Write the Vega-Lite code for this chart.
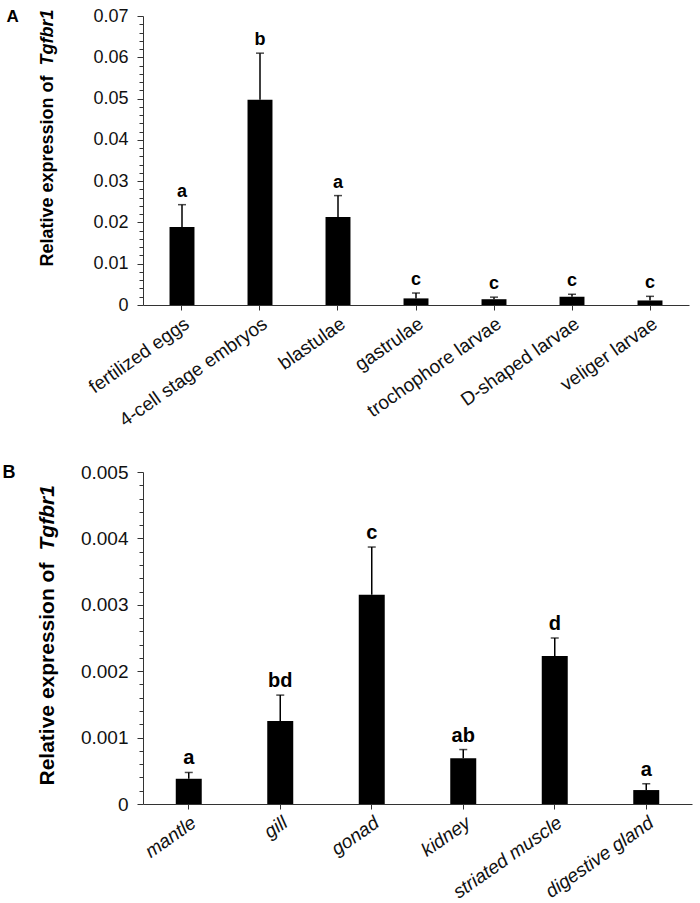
{
  "$schema": "https://vega.github.io/schema/vega-lite/v6.json",
  "padding": {"left": 2, "top": 7, "right": 2, "bottom": 0},
  "spacing": 32,
  "config": {
    "view": {"stroke": null},
    "font": "Liberation Sans",
    "axis": {"grid": false, "domainColor": "#333", "tickColor": "#333", "labelColor": "#111", "titleColor": "#000", "labelFont": "Liberation Sans", "titleFont": "Liberation Sans"}
  },
  "vconcat": [
    {
      "width": 546,
      "height": 289,
      "data": {"values": [
        {"stage": "fertilized eggs", "value": 0.0189, "upper": 0.0243, "letter": "a"},
        {"stage": "4-cell stage embryos", "value": 0.0497, "upper": 0.061, "letter": "b"},
        {"stage": "blastulae", "value": 0.0213, "upper": 0.0265, "letter": "a"},
        {"stage": "gastrulae", "value": 0.0016, "upper": 0.0029, "letter": "c"},
        {"stage": "trochophore larvae", "value": 0.0014, "upper": 0.0019, "letter": "c"},
        {"stage": "D-shaped larvae", "value": 0.002, "upper": 0.0026, "letter": "c"},
        {"stage": "veliger larvae", "value": 0.0011, "upper": 0.0021, "letter": "c"}
      ]},
      "encoding": {
        "x": {"field": "stage", "type": "nominal", "sort": null, "title": null,
          "scale": {"paddingInner": 0.68, "paddingOuter": 0.34},
          "axis": {"labelAngle": -35, "labelFontSize": 19, "labelLimit": 400, "tickSize": 5, "labelPadding": 4}}
      },
      "layer": [
        {
          "mark": {"type": "rule", "color": "#000", "strokeWidth": 1.5},
          "encoding": {
            "y": {"field": "value", "type": "quantitative", "scale": {"domain": [0, 0.07], "nice": false},
              "axis": {"orient": "left", "labels": false, "ticks": false, "domain": false, "title": "Tgfbr1", "titleFontSize": 18, "titleFontWeight": "bold", "titleFontStyle": "italic", "titleX": -91, "titleY": 49, "titleAlign": "left", "titleAngle": 270, "titleBaseline": "alphabetic"}},
            "y2": {"field": "upper"}
          }
        },
        {
          "mark": {"type": "tick", "color": "#000", "size": 8, "thickness": 1.5},
          "encoding": {"y": {"field": "upper", "type": "quantitative", "axis": null}}
        },
        {
          "mark": {"type": "bar", "color": "#000"},
          "encoding": {
            "y": {"field": "value", "type": "quantitative", "scale": {"domain": [0, 0.07], "nice": false},
              "axis": {"orient": "left",
                "values": [0,0.002,0.004,0.006,0.008,0.01,0.012,0.014,0.016,0.018,0.02,0.022,0.024,0.026,0.028,0.03,0.032,0.034,0.036,0.038,0.04,0.042,0.044,0.046,0.048,0.05,0.052,0.054,0.056,0.058,0.06,0.062,0.064,0.066,0.068,0.07],
                "labelExpr": "abs(datum.value*100 - round(datum.value*100)) < 1e-6 ? format(datum.value, '~g') : ''",
                "labelOverlap": false,
                "labelFontSize": 18,
                "labelPadding": 9,
                "tickSize": {"condition": {"test": "abs(datum.value*100 - round(datum.value*100)) < 1e-6", "value": 6}, "value": 4},
                "title": "Relative expression of", "titleFontSize": 18, "titleFontWeight": "bold", "titleX": -91, "titleY": 250, "titleAlign": "left", "titleAngle": 270, "titleBaseline": "alphabetic"}}
          }
        },
        {
          "mark": {"type": "text", "fontSize": 18, "fontWeight": "bold", "baseline": "alphabetic", "dy": -8, "color": "#000"},
          "encoding": {
            "y": {"field": "upper", "type": "quantitative",
              "axis": {"orient": "left", "labels": false, "ticks": false, "domain": false, "title": "A", "titleFontSize": 17, "titleFontWeight": "bold", "titleAngle": 0, "titleX": -137, "titleY": 0, "titleAlign": "left", "titleBaseline": "middle"}},
            "text": {"field": "letter"}
          }
        }
      ],
      "resolve": {"axis": {"y": "independent"}}
    },
    {
      "width": 549,
      "height": 332,
      "data": {"values": [
        {"tissue": "mantle", "value": 0.00038, "upper": 0.000475, "letter": "a"},
        {"tissue": "gill", "value": 0.00125, "upper": 0.00164, "letter": "bd"},
        {"tissue": "gonad", "value": 0.00315, "upper": 0.00387, "letter": "c"},
        {"tissue": "kidney", "value": 0.00069, "upper": 0.00082, "letter": "ab"},
        {"tissue": "striated muscle", "value": 0.00223, "upper": 0.0025, "letter": "d"},
        {"tissue": "digestive gland", "value": 0.00021, "upper": 0.000305, "letter": "a"}
      ]},
      "encoding": {
        "x": {"field": "tissue", "type": "nominal", "sort": null, "title": null,
          "scale": {"paddingInner": 0.716, "paddingOuter": 0.358},
          "axis": {"labelAngle": -35, "labelFontSize": 19, "labelLimit": 400, "labelFontStyle": "italic", "tickSize": 5, "labelPadding": 4}}
      },
      "layer": [
        {
          "mark": {"type": "rule", "color": "#000", "strokeWidth": 1.5},
          "encoding": {
            "y": {"field": "value", "type": "quantitative", "scale": {"domain": [0, 0.005], "nice": false},
              "axis": {"orient": "left", "labels": false, "ticks": false, "domain": false, "title": "Tgfbr1", "titleFontSize": 21, "titleFontWeight": "bold", "titleFontStyle": "italic", "titleX": -90, "titleY": 78, "titleAlign": "left", "titleAngle": 270, "titleBaseline": "alphabetic"}},
            "y2": {"field": "upper"}
          }
        },
        {
          "mark": {"type": "tick", "color": "#000", "size": 8, "thickness": 1.5},
          "encoding": {"y": {"field": "upper", "type": "quantitative", "axis": null}}
        },
        {
          "mark": {"type": "bar", "color": "#000"},
          "encoding": {
            "y": {"field": "value", "type": "quantitative", "scale": {"domain": [0, 0.005], "nice": false},
              "axis": {"orient": "left",
                "values": [0,0.0002,0.0004,0.0006,0.0008,0.001,0.0012,0.0014,0.0016,0.0018,0.002,0.0022,0.0024,0.0026,0.0028,0.003,0.0032,0.0034,0.0036,0.0038,0.004,0.0042,0.0044,0.0046,0.0048,0.005],
                "labelExpr": "abs(datum.value*1000 - round(datum.value*1000)) < 1e-6 ? format(datum.value, '~g') : ''",
                "labelOverlap": false,
                "labelFontSize": 19,
                "labelPadding": 9,
                "tickSize": {"condition": {"test": "abs(datum.value*1000 - round(datum.value*1000)) < 1e-6", "value": 6}, "value": 4},
                "title": "Relative expression of", "titleFontSize": 21, "titleFontWeight": "bold", "titleX": -90, "titleY": 313, "titleAlign": "left", "titleAngle": 270, "titleBaseline": "alphabetic"}}
          }
        },
        {
          "mark": {"type": "text", "fontSize": 20, "fontWeight": "bold", "baseline": "alphabetic", "dy": -8, "color": "#000"},
          "encoding": {
            "y": {"field": "upper", "type": "quantitative",
              "axis": {"orient": "left", "labels": false, "ticks": false, "domain": false, "title": "B", "titleFontSize": 18, "titleFontWeight": "bold", "titleAngle": 0, "titleX": -141, "titleY": 0, "titleAlign": "left", "titleBaseline": "middle"}},
            "text": {"field": "letter"}
          }
        }
      ],
      "resolve": {"axis": {"y": "independent"}}
    }
  ]
}
